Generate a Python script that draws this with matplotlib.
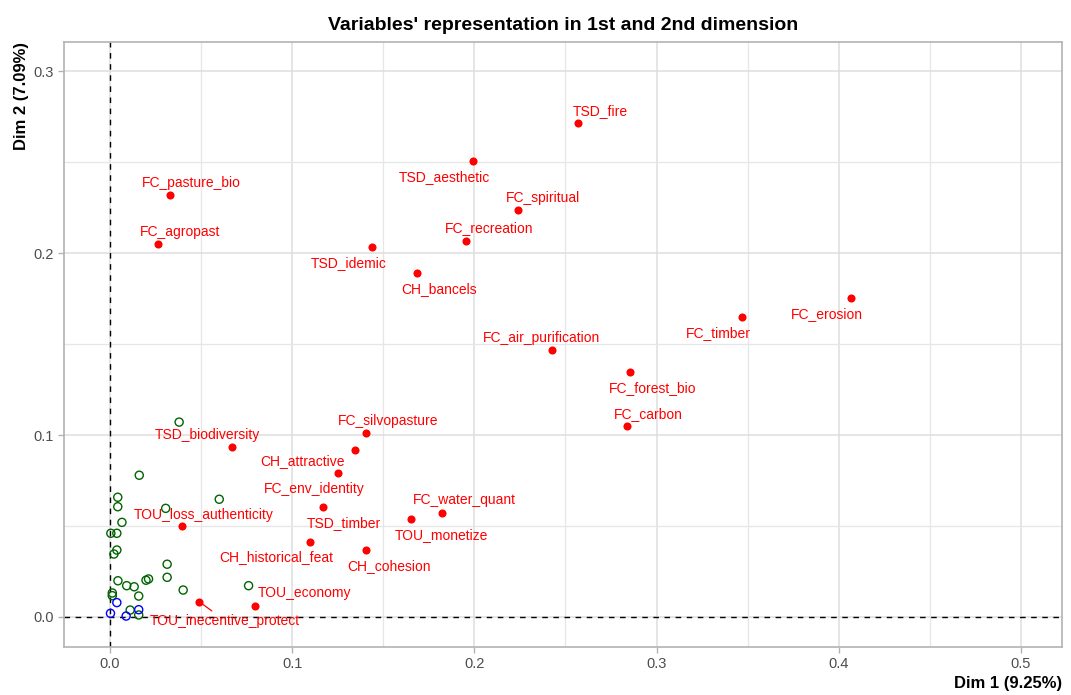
import matplotlib
matplotlib.use("Agg")
import matplotlib.pyplot as plt
from matplotlib.ticker import MultipleLocator

plt.rcParams["font.family"] = ["Liberation Sans", "DejaVu Sans"]

# Active variables (coordinates on Dim 1 / Dim 2)
var_names = [
    "TSD_fire", "TSD_aesthetic", "FC_spiritual", "FC_recreation", "CH_bancels",
    "TSD_idemic", "FC_pasture_bio", "FC_agropast", "FC_timber", "FC_erosion",
    "FC_air_purification", "FC_forest_bio", "FC_carbon", "FC_silvopasture",
    "CH_attractive", "FC_env_identity", "TSD_timber", "CH_historical_feat",
    "CH_cohesion", "TOU_monetize", "FC_water_quant", "TSD_biodiversity",
    "TOU_loss_authenticity", "TOU_economy", "TOU_inecentive_protect",
]
var_dim1 = [
    0.2569, 0.1991, 0.2239, 0.1954, 0.1683,
    0.1438, 0.0329, 0.0263, 0.3467, 0.4069,
    0.2426, 0.2852, 0.2839, 0.1405,
    0.1346, 0.1251, 0.1171, 0.1098,
    0.1405, 0.1652, 0.1821, 0.0668,
    0.0395, 0.0797, 0.0490,
]
var_dim2 = [
    0.2713, 0.2507, 0.2236, 0.2066, 0.1892,
    0.2033, 0.2319, 0.2049, 0.1650, 0.1754,
    0.1467, 0.1345, 0.1049, 0.1013,
    0.0918, 0.0793, 0.0603, 0.0414,
    0.0368, 0.0538, 0.0573, 0.0932,
    0.0500, 0.0060, 0.0084,
]

# Weakly represented variables (unlabelled)
low_dim1 = [
    0.0380, 0.0161, 0.0043, 0.0043, 0.0600, 0.0306, 0.0066, 0.0005, 0.0038,
    0.0038, 0.0022, 0.0314, 0.0314, 0.0212, 0.0198, 0.0044, 0.0092, 0.0133,
    0.0158, 0.0402, 0.0761, 0.0013, 0.0013, 0.0111, 0.0158,
]
low_dim2 = [
    0.1071, 0.0779, 0.0658, 0.0606, 0.0647, 0.0597, 0.0520, 0.0460, 0.0460,
    0.0368, 0.0346, 0.0290, 0.0218, 0.0209, 0.0202, 0.0199, 0.0172, 0.0166,
    0.0115, 0.0148, 0.0172, 0.0132, 0.0117, 0.0038, 0.0011,
]

# Supplementary variables
sup_dim1 = [0.0038, 0.0003, 0.0089, 0.0158]
sup_dim2 = [0.0079, 0.0020, 0.0005, 0.0040]

# Label placement relative to each point, in pixels (right, up)
label_offsets = {
    "TSD_fire": (22, 12), "TSD_aesthetic": (-28, -16), "FC_spiritual": (25, 12),
    "FC_recreation": (23, 13), "CH_bancels": (22, -16), "TSD_idemic": (-23, -16),
    "FC_pasture_bio": (21, 12), "FC_agropast": (22, 12), "FC_timber": (-23, -16),
    "FC_erosion": (-24, -16), "FC_air_purification": (-10, 12),
    "FC_forest_bio": (23, -16), "FC_carbon": (21, 12), "FC_silvopasture": (22, 12),
    "CH_attractive": (-53, -11), "FC_env_identity": (-24, -16),
    "TSD_timber": (21, -16), "CH_historical_feat": (-34, -15),
    "CH_cohesion": (23, -16), "TOU_monetize": (30, -16),
    "FC_water_quant": (23, 13), "TSD_biodiversity": (-24, 12),
    "TOU_loss_authenticity": (22, 11), "TOU_economy": (49, 13),
    "TOU_inecentive_protect": (26, -19),
}
segment_labels = {"TOU_inecentive_protect"}

fig = plt.figure(figsize=(10.71, 6.95), dpi=100)
ax = fig.add_axes([64 / 1071, 1 - 647 / 695, (1062 - 64) / 1071, (647 - 42) / 695])

ax.set_xlim(-0.0252, 0.5225)
ax.set_ylim(-0.0165, 0.316)
ax.xaxis.set_major_locator(MultipleLocator(0.1))
ax.yaxis.set_major_locator(MultipleLocator(0.1))
ax.xaxis.set_minor_locator(MultipleLocator(0.05))
ax.yaxis.set_minor_locator(MultipleLocator(0.05))
ax.xaxis.set_major_formatter(lambda v, p: f"{v:.1f}")
ax.yaxis.set_major_formatter(lambda v, p: f"{v:.1f}")

ax.grid(which="major", color="#DEDEDE", linewidth=1.1)
ax.grid(which="minor", color="#E6E6E6", linewidth=0.9)
ax.set_axisbelow(True)
for s in ax.spines.values():
    s.set_color("#B3B3B3")
    s.set_linewidth(1.2)
ax.tick_params(which="major", length=4.5, width=1.0, color="#B3B3B3",
               labelsize=10.5, labelcolor="#4D4D4D", pad=3)
ax.tick_params(which="minor", length=0)

ax.axhline(0, color="black", linestyle=(0, (4, 4)), linewidth=1.0, zorder=2)
ax.axvline(0, color="black", linestyle=(0, (4, 4)), linewidth=1.0, zorder=2)

ax.scatter(low_dim1, low_dim2, s=34, facecolors="none", edgecolors="#006400",
           linewidths=1.0, zorder=3)
ax.scatter(sup_dim1, sup_dim2, s=34, facecolors="none", edgecolors="#0000FF",
           linewidths=1.0, zorder=3)
ax.scatter(var_dim1, var_dim2, s=34, color="#FF0000", linewidths=0, zorder=4)

for name, x, y in zip(var_names, var_dim1, var_dim2):
    dx, dy = label_offsets[name]
    arrow = None
    if name in segment_labels:
        arrow = dict(arrowstyle="-", color="#FF0000", lw=0.9, shrinkA=0, shrinkB=3)
    ax.annotate(name, (x, y), xytext=(dx, dy), textcoords="offset pixels",
                ha="center", va="center", color="#FF0000", fontsize=10,
                arrowprops=arrow, zorder=5)

ax.set_title("Variables' representation in 1st and 2nd dimension",
             fontsize=14, fontweight="bold", pad=9)
ax.set_xlabel("Dim 1 (9.25%)", loc="right", fontsize=12, fontweight="bold",
              labelpad=3)
ax.set_ylabel("Dim 2 (7.09%)", loc="top", fontsize=12, fontweight="bold",
              labelpad=3)

fig.savefig("out.png", dpi=100)
